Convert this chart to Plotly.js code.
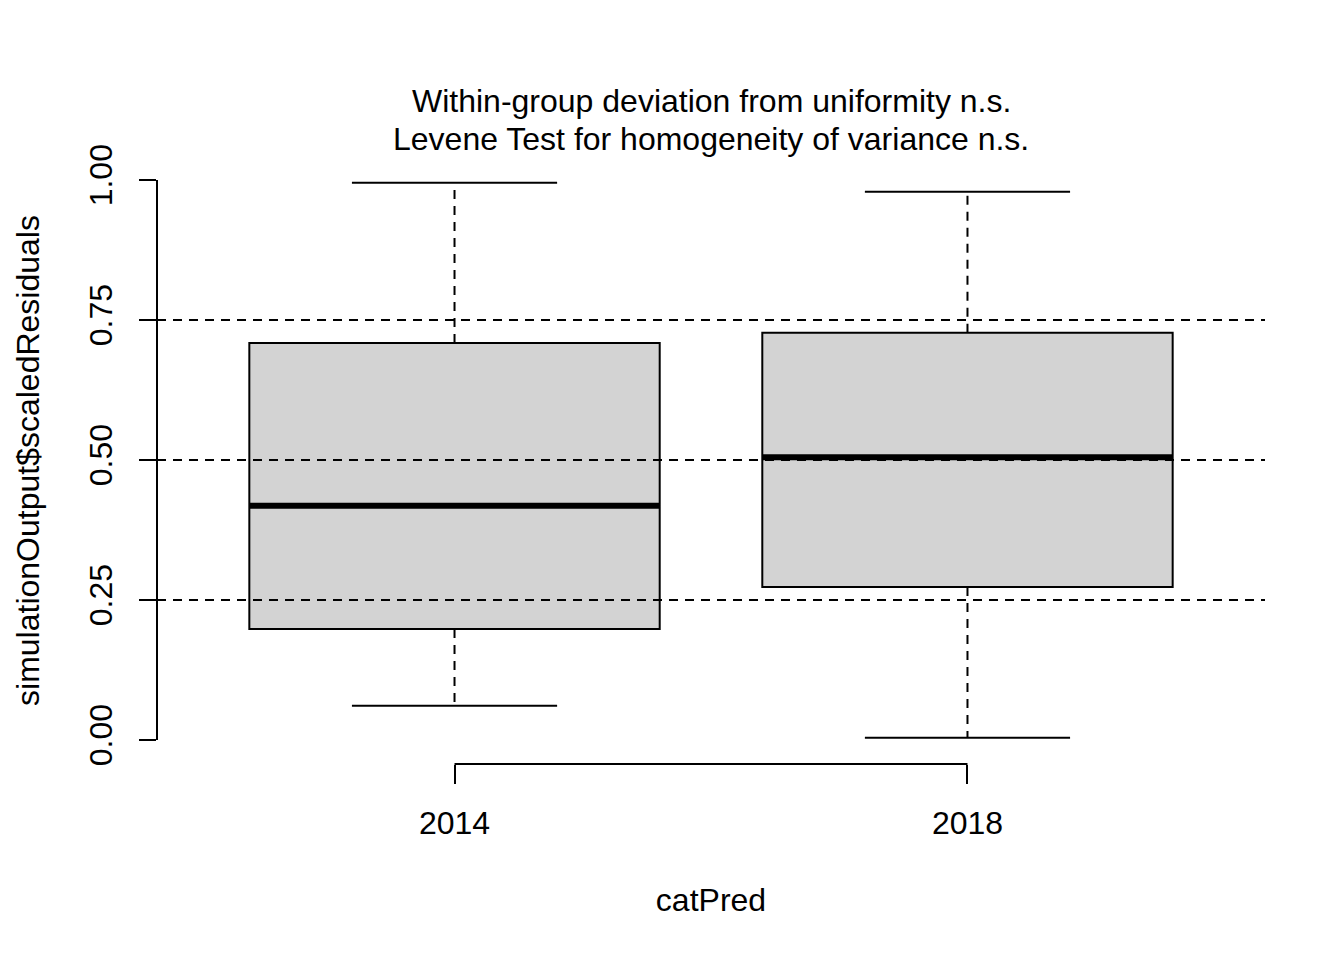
<!DOCTYPE html>
<html>
<head>
<meta charset="utf-8">
<script src="https://cdn.plot.ly/plotly-3.0.1.min.js"></script>
<style>html,body{margin:0;padding:0;background:#fff;}#plot{width:1344px;height:960px;}</style>
</head>
<body>
<div id="plot"></div>
<script>
// Data
var categories = ['2014', '2018'];
var whiskerLow = [0.061, 0.004];
var q1 = [0.198, 0.273];
var medians = [0.418, 0.505];
var q3 = [0.709, 0.727];
var whiskerHigh = [0.995, 0.979];
var refLines = [0.25, 0.5, 0.75];
var yTickVals = [0, 0.25, 0.5, 0.75, 1];
var yTickText = ['0.00', '0.25', '0.50', '0.75', '1.00'];
var titleLines = ['Within-group deviation from uniformity n.s.', 'Levene Test for homogeneity of variance n.s.'];

var pos = categories.map(function (c, i) { return i + 1; });
var boxW = 0.8, capHalf = 0.2;

var FONT = 'Liberation Sans, Arial, sans-serif';
var FS = 32;
var DASH = '9px,7px';

var traces = [];

// dashed whiskers
var wx = [], wy = [];
pos.forEach(function (p, i) {
  wx.push(p, p, null, p, p, null);
  wy.push(q3[i], whiskerHigh[i], null, q1[i], whiskerLow[i], null);
});
traces.push({type: 'scatter', mode: 'lines', x: wx, y: wy, hoverinfo: 'skip',
  line: {color: 'black', width: 2, dash: DASH}, showlegend: false});

// whisker caps
var cx = [], cy = [];
pos.forEach(function (p, i) {
  cx.push(p - capHalf, p + capHalf, null, p - capHalf, p + capHalf, null);
  cy.push(whiskerHigh[i], whiskerHigh[i], null, whiskerLow[i], whiskerLow[i], null);
});
traces.push({type: 'scatter', mode: 'lines', x: cx, y: cy, hoverinfo: 'skip',
  line: {color: 'black', width: 2}, showlegend: false});

// boxes
traces.push({type: 'box', x: pos, q1: q1, median: medians, q3: q3,
  lowerfence: q1, upperfence: q3, width: boxW, whiskerwidth: 0,
  fillcolor: '#d3d3d3', line: {color: 'black', width: 2}, showlegend: false, boxpoints: false});

// thick medians
var mx = [], my = [];
pos.forEach(function (p, i) {
  mx.push(p - boxW / 2, p + boxW / 2, null);
  my.push(medians[i], medians[i], null);
});
traces.push({type: 'scatter', mode: 'lines', x: mx, y: my, hoverinfo: 'skip',
  line: {color: 'black', width: 6}, showlegend: false});

var shapes = [];
refLines.forEach(function (v) {
  shapes.push({type: 'line', xref: 'paper', yref: 'y', x0: 0, x1: 1, y0: v, y1: v,
    line: {color: 'black', width: 2, dash: DASH}, layer: 'above'});
});
// y axis line from first to last tick
shapes.push({type: 'line', xref: 'paper', yref: 'y', x0: 0, x1: 0,
  y0: yTickVals[0], y1: yTickVals[yTickVals.length - 1], line: {color: 'black', width: 2}});
// x axis line from first to last category
shapes.push({type: 'line', xref: 'x', yref: 'paper', x0: pos[0], x1: pos[pos.length - 1],
  y0: 0, y1: 0, line: {color: 'black', width: 2}});

var plotH = 607;
var annotations = [
  {text: titleLines[0], xref: 'paper', yref: 'paper', x: 0.5, y: 1 + (157 - 101) / plotH,
    xanchor: 'center', yanchor: 'middle', showarrow: false, font: {family: FONT, size: FS, color: 'black'}},
  {text: titleLines[1], xref: 'paper', yref: 'paper', x: 0.5, y: 1 + (157 - 139) / plotH,
    xanchor: 'center', yanchor: 'middle', showarrow: false, font: {family: FONT, size: FS, color: 'black'}}
];

var layout = {
  width: 1344, height: 960,
  margin: {l: 157, r: 79, t: 157, b: 196},
  paper_bgcolor: 'white', plot_bgcolor: 'white',
  font: {family: FONT, size: FS, color: 'black'},
  xaxis: {range: [0.42, 2.58], tickvals: pos, ticktext: categories, ticks: 'outside',
    ticklen: 19, tickwidth: 2, tickcolor: 'black', showline: false, showgrid: false,
    zeroline: false, ticklabelstandoff: 12,
    title: {text: 'catPred', standoff: 48, font: {family: FONT, size: FS}}},
  yaxis: {range: [-0.043, 1.041], tickvals: yTickVals, ticktext: yTickText, ticks: 'outside',
    ticklen: 17, tickwidth: 2, tickcolor: 'black', showline: false, showgrid: false,
    zeroline: false, tickangle: -90, ticklabelstandoff: 14,
    title: {text: 'simulationOutput$scaledResiduals', standoff: 34, font: {family: FONT, size: FS}}},
  shapes: shapes,
  annotations: annotations
};

Plotly.newPlot('plot', traces, layout, {displayModeBar: false, staticPlot: true});
</script>
</body>
</html>
